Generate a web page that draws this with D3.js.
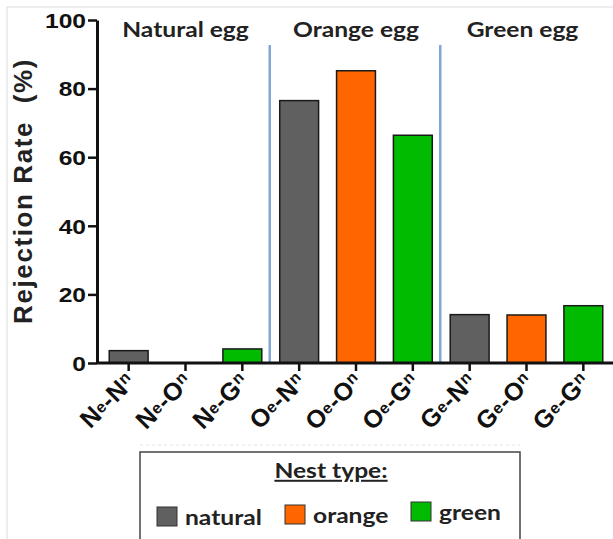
<!DOCTYPE html>
<html>
<head>
<meta charset="utf-8">
<script src="https://cdn.jsdelivr.net/npm/d3@7"></script>
<style>
  body { margin: 0; background: #fff; }
  svg { display: block; }
</style>
</head>
<body>
<script>
// bars, in drawing order
var eggs = ['N', 'O', 'G'];                 // egg colour (subscript e)
var nests = ['N', 'O', 'G'];                // nest type (subscript n)
var groupLabels = ['Natural egg', 'Orange egg', 'Green egg'];
var rejection = [
  [3.6, 0, 4.1],      // natural egg
  [76.5, 85.2, 66.4], // orange egg
  [14.1, 14.0, 16.7]  // green egg
];
var yTicks = [0, 20, 40, 60, 80, 100];
var nestNames = ['natural', 'orange', 'green'];
var nestColors = ['#606060', '#ff6600', '#00bb00'];

var width = 613, height = 539;
var stretch = 1.23; // the original figure is widened a little

var svg = d3.select('body').append('svg')
  .attr('width', width)
  .attr('height', height);

// faint frame of the original figure
svg.append('path')
  .attr('d', 'M7,539V7H613')
  .attr('fill', 'none')
  .attr('stroke', '#dcdcdc')
  .attr('stroke-width', 1);

var data = [];
eggs.forEach(function(e, i) {
  nests.forEach(function(n, j) {
    data.push({egg: e, nest: n, nestIdx: j, group: i, value: rejection[i][j], key: e + '-' + n});
  });
});

var x = d3.scaleBand()
  .domain(data.map(function(d) { return d.key; }))
  .range([99, 613])
  .paddingInner(0.316)
  .paddingOuter(0.18);

var y = d3.scaleLinear()
  .domain([0, 100])
  .range([363, 20]);

var axisFont = '"Liberation Sans", Arial, sans-serif';
var titleFont = 'Lato, "Open Sans", sans-serif';

// horizontal text, widened like the source image
function wideText(parent, px, py, size, txt) {
  return parent.append('text')
    .attr('transform', 'translate(' + px + ',' + py + ') scale(' + stretch + ',1)')
    .attr('text-anchor', 'middle')
    .style('font-family', titleFont)
    .style('font-weight', 'bold')
    .style('font-size', size + 'px')
    .style('fill', '#222')
    .text(txt);
}

// bars
svg.selectAll('rect.bar')
  .data(data)
  .enter()
  .append('rect')
  .attr('class', 'bar')
  .attr('x', function(d) { return x(d.key); })
  .attr('y', function(d) { return y(d.value); })
  .attr('width', x.bandwidth())
  .attr('height', function(d) { return y(0) - y(d.value); })
  .attr('fill', function(d) { return nestColors[d.nestIdx]; })
  .attr('stroke', '#1a1a1a')
  .attr('stroke-width', 1.5);

// blue separators between egg groups
[1, 2].forEach(function(g) {
  var left = data[g * 3 - 1].key, right = data[g * 3].key;
  var sx = (x(left) + x.bandwidth() + x(right)) / 2 - 1;
  svg.append('line')
    .attr('x1', sx).attr('x2', sx)
    .attr('y1', 45).attr('y2', y(0))
    .attr('stroke', '#7fa8d4')
    .attr('stroke-width', 2.5);
});

// group titles
groupLabels.forEach(function(t, g) {
  var cx = x(data[g * 3 + 1].key) + x.bandwidth() / 2;
  if (g == 2) cx -= 4;
  wideText(svg, cx, 37, 20, t);
});

// y axis
var yAxis = svg.append('g')
  .attr('transform', 'translate(97,0)')
  .call(d3.axisLeft(y).tickValues(yTicks).tickSize(9).tickPadding(2).tickSizeOuter(0));
yAxis.select('.domain').attr('stroke', '#111').attr('stroke-width', 3);
yAxis.selectAll('.tick line').attr('stroke', '#111').attr('stroke-width', 2.5);
yAxis.selectAll('.tick text')
  .attr('x', null)
  .attr('transform', 'translate(-11,0) scale(' + stretch + ',1)')
  .style('font-family', axisFont)
  .style('font-weight', 'bold')
  .style('font-size', '20px')
  .attr('dy', '0.36em')
  .style('fill', '#111');

// x axis
var xAxis = svg.append('g')
  .attr('transform', 'translate(0,' + y(0) + ')')
  .call(d3.axisBottom(x).tickSize(8).tickSizeOuter(0).tickFormat(''));
xAxis.select('.domain').attr('d', 'M97,0H613').attr('stroke', '#111').attr('stroke-width', 3);
xAxis.selectAll('.tick line').attr('stroke', '#111').attr('stroke-width', 2.5);

// rotated category labels with small e / n
xAxis.selectAll('.tick').each(function(k) {
  var parts = k.split('-');
  var t = d3.select(this).append('text')
    .attr('transform', 'translate(8,20) rotate(-45)')
    .attr('text-anchor', 'end')
    .style('font-family', axisFont)
    .style('font-weight', 'bold')
    .style('font-size', '25px')
    .style('letter-spacing', '0.5px')
    .style('fill', '#111');
  t.append('tspan').text(parts[0]);
  t.append('tspan').text('e').style('font-size', '16px').attr('dy', '-3');
  t.append('tspan').text('-').attr('dy', '3');
  t.append('tspan').text(parts[1]);
  t.append('tspan').text('n').style('font-size', '16px').attr('dy', '-7');
});

// y label
svg.append('text')
  .attr('transform', 'translate(32,191) rotate(-90)')
  .attr('text-anchor', 'middle')
  .style('font-family', axisFont)
  .style('font-weight', 'bold')
  .style('font-size', '26px')
  .style('letter-spacing', '1.6px')
  .style('fill', '#222')
  .text('Rejection Rate\u00a0 (%)');

// legend
var legend = svg.append('g');
legend.append('line')
  .attr('x1', 140).attr('x2', 520)
  .attr('y1', 445).attr('y2', 445)
  .attr('stroke', '#e4e4e4')
  .attr('stroke-dasharray', '3,3');
legend.append('rect')
  .attr('x', 140).attr('y', 452)
  .attr('width', 380).attr('height', 100)
  .attr('fill', '#fff')
  .attr('stroke', '#444')
  .attr('stroke-width', 1.5);

wideText(legend, 331, 478, 20, 'Nest type:')
  .style('text-decoration', 'underline');

var legendX = [157, 285, 411];
var legendY = [507, 505, 502];
var item = legend.selectAll('g.item')
  .data(nestNames)
  .enter()
  .append('g')
  .attr('class', 'item')
  .attr('transform', function(d, i) { return 'translate(' + legendX[i] + ',' + legendY[i] + ')'; });
item.append('rect')
  .attr('width', 20).attr('height', 19)
  .attr('fill', function(d, i) { return nestColors[i]; })
  .attr('stroke', '#333')
  .attr('stroke-width', 1);
item.append('text')
  .attr('transform', 'translate(28,18) scale(' + stretch + ',1)')
  .style('font-family', titleFont)
  .style('font-weight', 'bold')
  .style('font-size', '20px')
  .style('fill', '#222')
  .text(function(d) { return d; });
</script>
</body>
</html>
